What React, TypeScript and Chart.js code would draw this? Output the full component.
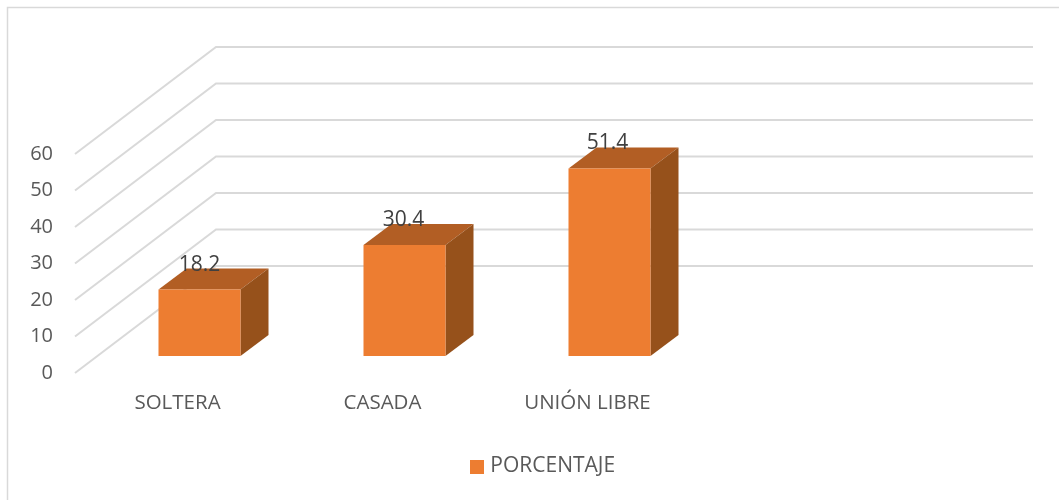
import React, { useEffect, useRef } from "react";
import { Chart, registerables } from "chart.js";

Chart.register(...registerables);

const categories = ["SOLTERA", "CASADA", "UNIÓN LIBRE", ""];
const porcentaje = [18.2, 30.4, 51.4, null];
const seriesName = "PORCENTAJE";
const yTicks = { min: 0, max: 60, step: 10 };

const FONT = "'Open Sans', sans-serif";
const WALL = { dx: 141, dy: 107, rightInset: 3 };
const BAR_PLANE = { dx: 22, dy: 17 };
const DEPTH = { dx: 28, dy: 21 };
const LEGEND_SHIFT = 97;
const COLORS = { front: "#ED7D31", top: "#B25E24", side: "#96511B", grid: "#D9D9D9", tick: "#595959", label: "#404040" };

function legendSquare() {
  const c = document.createElement("canvas");
  c.width = 14;
  c.height = 14;
  const g = c.getContext("2d")!;
  g.fillStyle = COLORS.front;
  g.fillRect(0, 0, 14, 14);
  return c;
}

const scene = {
  id: "scene",
  beforeDraw(chart: any) {
    const { ctx, width, height } = chart;
    ctx.save();
    ctx.fillStyle = "#fff";
    ctx.fillRect(0, 0, width, height);
    ctx.strokeStyle = COLORS.grid;
    ctx.lineWidth = 1.5;
    ctx.beginPath();
    ctx.moveTo(7.5, height);
    ctx.lineTo(7.5, 7.5);
    ctx.lineTo(width, 7.5);
    ctx.stroke();
    const { left, right } = chart.chartArea;
    const y = chart.scales.y;
    ctx.lineWidth = 2;
    y.ticks.forEach((t: any) => {
      const py = y.getPixelForValue(t.value);
      ctx.beginPath();
      ctx.moveTo(left, py);
      ctx.lineTo(left + WALL.dx, py - WALL.dy);
      ctx.lineTo(right + WALL.dx - WALL.rightInset, py - WALL.dy);
      ctx.stroke();
    });
    ctx.restore();
  },
  afterLayout(chart: any) {
    chart.legend.left += LEGEND_SHIFT;
    chart.legend.right += LEGEND_SHIFT;
    chart.legend.top += 1;
    chart.legend.bottom += 1;
  },
  beforeDatasetsDraw(chart: any) {
    const { ctx } = chart;
    ctx.save();
    ctx.translate(BAR_PLANE.dx, -BAR_PLANE.dy);
    chart.getDatasetMeta(0).data.forEach((bar: any, i: number) => {
      if (porcentaje[i] == null) return;
      const { x, y, base, width } = bar.getProps(["x", "y", "base", "width"], true);
      const l = x - width / 2;
      const r = x + width / 2;
      ctx.fillStyle = COLORS.top;
      ctx.beginPath();
      ctx.moveTo(l, y);
      ctx.lineTo(l + DEPTH.dx, y - DEPTH.dy);
      ctx.lineTo(r + DEPTH.dx, y - DEPTH.dy);
      ctx.lineTo(r, y);
      ctx.closePath();
      ctx.fill();
      ctx.fillStyle = COLORS.side;
      ctx.beginPath();
      ctx.moveTo(r, y);
      ctx.lineTo(r + DEPTH.dx, y - DEPTH.dy);
      ctx.lineTo(r + DEPTH.dx, base - DEPTH.dy);
      ctx.lineTo(r, base);
      ctx.closePath();
      ctx.fill();
    });
  },
  afterDatasetsDraw(chart: any) {
    const { ctx } = chart;
    ctx.restore();
    ctx.save();
    ctx.fillStyle = COLORS.label;
    ctx.font = `21px ${FONT}`;
    ctx.textAlign = "center";
    ctx.textBaseline = "middle";
    chart.getDatasetMeta(0).data.forEach((bar: any, i: number) => {
      const v = porcentaje[i];
      if (v == null) return;
      ctx.fillText(String(v), bar.x + BAR_PLANE.dx - i, bar.y - BAR_PLANE.dy - 25);
    });
    ctx.restore();
  },
};

export default function App() {
  const ref = useRef<HTMLCanvasElement>(null);
  useEffect(() => {
    document.body.style.margin = "0";
    const chart = new Chart(ref.current!, {
      type: "bar",
      data: {
        labels: categories,
        datasets: [
          {
            label: seriesName,
            data: porcentaje,
            backgroundColor: COLORS.front,
            barPercentage: 0.8,
            categoryPercentage: 0.5,
            clip: false,
          } as any,
        ],
      },
      plugins: [scene],
      options: {
        responsive: false,
        animation: false,
        layout: { padding: { top: 154, right: 164, bottom: 14, left: 0 } },
        scales: {
          x: {
            grid: { display: false },
            border: { display: false },
            afterFit: (s: any) => { s.height = 72; },
            ticks: { color: COLORS.tick, font: { family: FONT, size: 20.5 }, padding: 10, maxRotation: 0, autoSkip: false },
          },
          y: {
            min: yTicks.min,
            max: yTicks.max,
            grid: { display: false },
            border: { display: false },
            afterFit: (s: any) => { s.width = 75; },
            ticks: { stepSize: yTicks.step, color: COLORS.tick, font: { family: FONT, size: 20 }, padding: 14 },
          },
        },
        plugins: {
          tooltip: { enabled: false },
          legend: {
            position: "bottom",
            labels: {
              color: COLORS.tick,
              usePointStyle: true,
              pointStyle: legendSquare(),
              pointStyleWidth: 6,
              boxHeight: 14,
              padding: 10,
              font: { family: FONT, size: 21 },
            },
          },
        },
      },
    });
    return () => chart.destroy();
  }, []);
  return <canvas ref={ref} width={1059} height={500} style={{ display: "block" }} />;
}
